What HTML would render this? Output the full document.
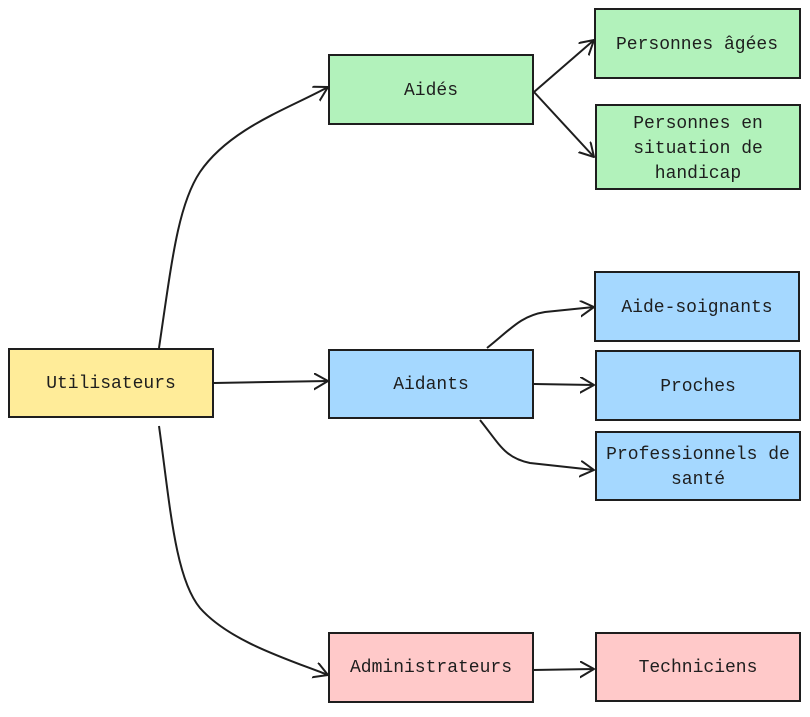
<!DOCTYPE html>
<html><head><meta charset="utf-8"><style>
body{margin:0;background:#fff;width:810px;height:712px;overflow:hidden}
svg text{font-family:"Liberation Mono","DejaVu Sans Mono",monospace;font-size:18px;fill:#1e1e1e;text-anchor:middle;dominant-baseline:middle}
</style></head><body>
<svg width="810" height="712" viewBox="0 0 810 712" xmlns="http://www.w3.org/2000/svg">
<defs><marker id="a" markerWidth="20" markerHeight="20" refX="14" refY="8" orient="auto" markerUnits="userSpaceOnUse"><polyline points="0,0 14,8 0,16" fill="none" stroke="#1e1e1e" stroke-width="2" stroke-linecap="round" stroke-linejoin="round"/></marker></defs>
<g stroke="#1e1e1e" stroke-width="2">
<rect x="9" y="349" width="204" height="68" fill="#ffec99"/>
<rect x="329" y="55" width="204" height="69" fill="#b2f2bb"/>
<rect x="329" y="350" width="204" height="68" fill="#a5d8ff"/>
<rect x="329" y="633" width="204" height="69" fill="#ffc9c9"/>
<rect x="595" y="9" width="205" height="69" fill="#b2f2bb"/>
<rect x="596" y="105" width="204" height="84" fill="#b2f2bb"/>
<rect x="595" y="272" width="204" height="69" fill="#a5d8ff"/>
<rect x="596" y="351" width="204" height="69" fill="#a5d8ff"/>
<rect x="596" y="432" width="204" height="68" fill="#a5d8ff"/>
<rect x="596" y="633" width="204" height="68" fill="#ffc9c9"/>
</g>
<g stroke="#1e1e1e" stroke-width="2" fill="none" marker-end="url(#a)">
<path d="M159 348 C172 260 178 205 200 172 C230 128 290 108 328 87"/>
<path d="M159 426 C170 505 175 578 200 608 C230 642 290 660 328 675"/>
<path d="M214 383 L328 381"/>
<path d="M534 92 L594 40"/>
<path d="M534 92 L594 157"/>
<path d="M487 348 C510 330 520 316 545 312 L594 307"/>
<path d="M534 384 L594 385"/>
<path d="M480 420 C500 445 505 458 530 463 L594 470"/>
<path d="M533 670 L594 669"/>
</g>
<text x="111" y="383">Utilisateurs</text>
<text x="431" y="90">Aidés</text>
<text x="431" y="384">Aidants</text>
<text x="431" y="667">Administrateurs</text>
<text x="697" y="44">Personnes âgées</text>
<text x="698" y="123">Personnes en</text>
<text x="698" y="148">situation de</text>
<text x="698" y="173">handicap</text>
<text x="697" y="307">Aide-soignants</text>
<text x="698" y="386">Proches</text>
<text x="698" y="454">Professionnels de</text>
<text x="698" y="479">santé</text>
<text x="698" y="667">Techniciens</text>
</svg>
</body></html>
